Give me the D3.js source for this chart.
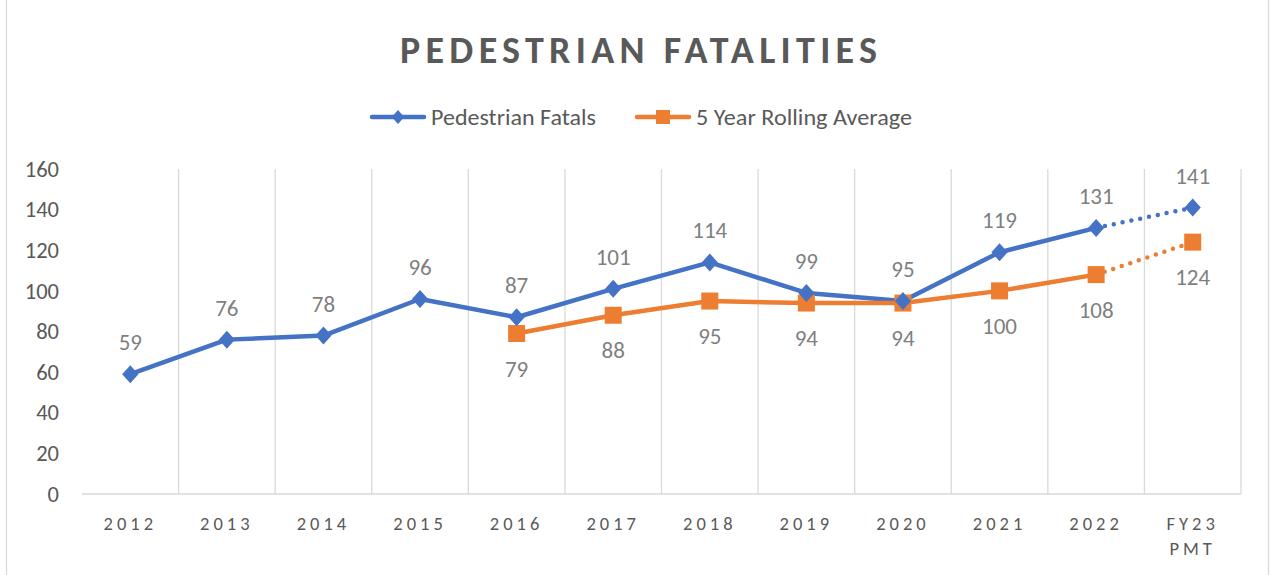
<!DOCTYPE html>
<html><head><meta charset="utf-8">
<script src="https://cdn.jsdelivr.net/npm/d3@7"></script>
<style>
html,body{margin:0;padding:0;background:#fff;}
svg{display:block;font-family:Carlito,Lato,"Open Sans",sans-serif;}
</style></head>
<body><svg id="c" width="1270" height="575"></svg>
<script>
const categories = ["2012","2013","2014","2015","2016","2017","2018","2019","2020","2021","2022","FY23\nPMT"];
const pedestrianFatals = [59,76,78,96,87,101,114,99,95,119,131,141];
const rollingAverage = [null,null,null,null,79,88,95,94,94,100,108,124];
const yTicks = [0,20,40,60,80,100,120,140,160];
const seriesNames = ["Pedestrian Fatals","5 Year Rolling Average"];

const blue = "#4472C4", orange = "#ED7D31", txt = "#595959", lbl = "#7F7F7F", grid = "#D9D9D9";
const svg = d3.select("#c");
const m = {left:82, right:1241, top:169, bottom:494};

svg.append("rect").attr("x",6.5).attr("y",-2).attr("width",1262).attr("height",579)
  .attr("fill","#fff").attr("stroke",grid).attr("stroke-width",1.3);

const x = d3.scaleBand().domain(categories.map((c,i)=>i)).range([m.left,m.right]).padding(0);
const y = d3.scaleLinear().domain([0,160]).range([m.bottom,m.top]);
const cx = i => x(i) + x.bandwidth()/2;

// vertical gridlines at category boundaries
const bounds = categories.map((c,i)=>x(i)).concat([m.right]);
svg.append("g").selectAll("line").data(bounds.slice(1)).join("line")
  .attr("x1",d=>d).attr("x2",d=>d).attr("y1",m.top).attr("y2",m.bottom)
  .attr("stroke",grid).attr("stroke-width",1.3);
svg.append("line").attr("x1",m.left).attr("x2",m.right).attr("y1",m.bottom).attr("y2",m.bottom)
  .attr("stroke",grid).attr("stroke-width",1.3);

// y axis
const yAxis = d3.axisLeft(y).tickValues(yTicks).tickSize(0).tickPadding(0);
const gy = svg.append("g").attr("transform",`translate(59,0)`).call(yAxis);
gy.select(".domain").remove();
gy.selectAll("text").attr("fill",txt).attr("font-size",22.5).attr("font-family","Carlito,Lato,sans-serif");

// x axis labels
const gx = svg.append("g");
categories.forEach((c,i)=>{
  const lines = c.split("\n");
  lines.forEach((ln,j)=>{
    gx.append("text").attr("x",cx(i)).attr("y",530 + j*25).attr("text-anchor","middle")
      .attr("fill",txt).attr("font-size",18.5).attr("letter-spacing","4px").text(ln);
  });
});

// title
svg.append("text").attr("x",400).attr("y",63)
  .attr("fill",txt).attr("font-size",38).attr("font-weight","bold")
  .attr("textLength",477).attr("lengthAdjust","spacing")
  .text("PEDESTRIAN FATALITIES");

// lines
const n = categories.length;
function drawSeries(vals, color){
  const pts = vals.map((v,i)=>({i,v})).filter(d=>d.v!=null);
  const solid = pts.filter(d=>d.i<=n-2);
  const dotted = pts.filter(d=>d.i>=n-2);
  const line = d3.line().x(d=>cx(d.i)).y(d=>y(d.v));
  svg.append("path").attr("d",line(solid)).attr("fill","none").attr("stroke",color)
    .attr("stroke-width",4.5).attr("stroke-linejoin","round").attr("stroke-linecap","round");
  svg.append("path").attr("d",line(dotted)).attr("fill","none").attr("stroke",color)
    .attr("stroke-width",4.5).attr("stroke-dasharray","0,9").attr("stroke-linecap","round");
  return pts;
}
const bPts = drawSeries(pedestrianFatals, blue);
const oPts = drawSeries(rollingAverage, orange);

const diamond = s => `M0,${-s}L${s*0.9},0L0,${s}L${-s*0.9},0Z`;
svg.append("g").selectAll("path").data(oPts).join("path")
  .attr("d","M-8.5,-8.5h17v17h-17Z").attr("fill",orange)
  .attr("transform",d=>`translate(${cx(d.i)},${y(d.v)})`);
svg.append("g").selectAll("path").data(bPts).join("path")
  .attr("d",diamond(9)).attr("fill",blue)
  .attr("transform",d=>`translate(${cx(d.i)},${y(d.v)})`);

// data labels
svg.append("g").selectAll("text").data(bPts).join("text")
  .attr("x",d=>cx(d.i)).attr("y",d=>y(d.v)-24).attr("text-anchor","middle")
  .attr("fill",lbl).attr("font-size",23).text(d=>d.v);
svg.append("g").selectAll("text").data(oPts).join("text")
  .attr("x",d=>cx(d.i)).attr("y",d=>y(d.v)+43).attr("text-anchor","middle")
  .attr("fill",lbl).attr("font-size",23).text(d=>d.v);

// legend
const lg = svg.append("g");
[[372,blue,"d",165],[637,orange,"s",216]].forEach(([lx,col,t,w],k)=>{
  lg.append("line").attr("x1",lx).attr("x2",lx+52).attr("y1",117).attr("y2",117)
    .attr("stroke",col).attr("stroke-width",4.5).attr("stroke-linecap","round");
  lg.append("path").attr("d", t==="d" ? diamond(7) : "M-7,-7h14v14h-14Z")
    .attr("fill",col).attr("transform",`translate(${lx+26},117)`);
  lg.append("text").attr("x",lx+59).attr("y",124.5).attr("fill",txt).attr("font-size",23)
    .attr("textLength",w).attr("lengthAdjust","spacingAndGlyphs").text(seriesNames[k]);
});
</script></body></html>
